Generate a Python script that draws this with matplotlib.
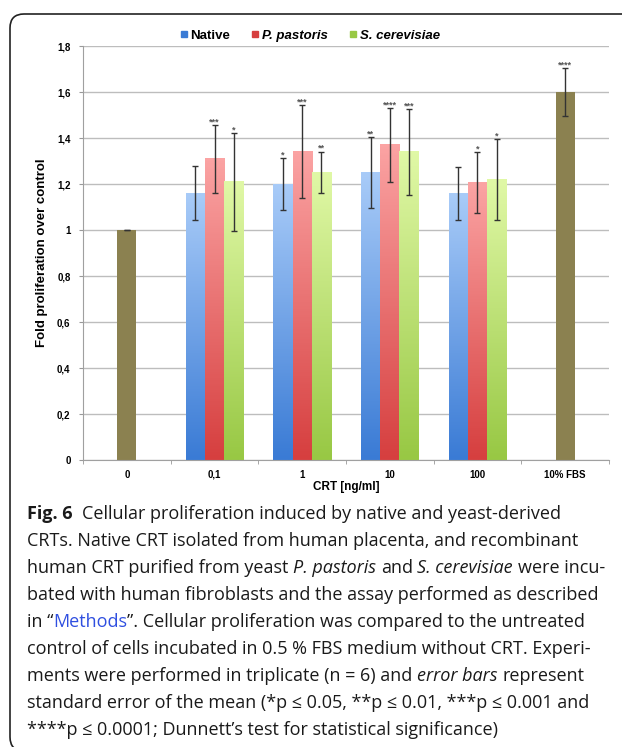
import numpy as np
import matplotlib
matplotlib.use("Agg")
import matplotlib.pyplot as plt
from matplotlib.colors import LinearSegmentedColormap
from matplotlib.lines import Line2D
from matplotlib.patches import FancyBboxPatch
from matplotlib.transforms import IdentityTransform

# ── data ──
categories = ["0", "0,1", "1", "10", "100", "10% FBS"]
native = [1.16, 1.20, 1.25, 1.16]
native_err = [0.118, 0.113, 0.154, 0.116]
pastoris = [1.31, 1.34, 1.37, 1.205]
pastoris_err = [0.148, 0.202, 0.161, 0.133]
cerevisiae = [1.21, 1.25, 1.34, 1.22]
cerevisiae_err = [0.213, 0.091, 0.187, 0.177]
native_stars = ["", "*", "**", ""]
pastoris_stars = ["***", "***", "****", "*"]
cerevisiae_stars = ["*", "**", "***", "*"]
control_values = [1.0, 1.6]          # "0" and "10% FBS"
control_err = [0.0, 0.105]
control_stars = ["", "****"]
yticks = [0, 0.2, 0.4, 0.6, 0.8, 1.0, 1.2, 1.4, 1.6, 1.8]

caption = [
    [("Fig. 6", "b"), ("  Cellular proliferation induced by native and yeast-derived", "r")],
    [("CRTs. Native CRT isolated from human placenta, and recombinant", "r")],
    [("human CRT purified from yeast ", "r"), ("P. pastoris", "i"), (" and ", "r"),
     ("S. cerevisiae", "i"), (" were incu-", "r")],
    [("bated with human fibroblasts and the assay performed as described", "r")],
    [("in \u201c", "r"), ("Methods", "m"), ("\u201d. Cellular proliferation was compared to the untreated", "r")],
    [("control of cells incubated in 0.5 % FBS medium without CRT. Experi-", "r")],
    [("ments were performed in triplicate (n = 6) and ", "r"), ("error bars", "i"), (" represent", "r")],
    [("standard error of the mean (*p \u2264 0.05, **p \u2264 0.01, ***p \u2264 0.001 and", "r")],
    [("****p \u2264 0.0001; Dunnett\u2019s test for statistical significance)", "r")],
]

plt.rcParams["font.family"] = ["Liberation Sans", "DejaVu Sans"]

W, H = 622, 747
fig = plt.figure(figsize=(W / 100, H / 100), dpi=100)
ax = fig.add_axes([83 / W, 1 - 460 / H, (609 - 83) / W, (460 - 46) / H])

blue = ("#3a7bd5", "#a8cbf8")
red = ("#d63f3f", "#fba3a3")
green = ("#98c844", "#e0f8a6")
olive = "#8b8150"
err_color = "#333333"
star_color = "#555555"
bw = 0.22


def gradient_bar(x, h, colors):
    cmap = LinearSegmentedColormap.from_list("g", list(colors))
    grad = np.linspace(0, 1, 100).reshape(-1, 1)
    ax.imshow(grad, extent=[x - bw / 2, x + bw / 2, 0, h], origin="lower",
              aspect="auto", cmap=cmap, zorder=2, interpolation="bilinear")


def mark(x, top, err, stars):
    ax.errorbar(x, top, yerr=err, fmt="none", ecolor=err_color, elinewidth=1.0,
                capsize=2.5, capthick=1.0, zorder=4)
    if stars:
        ax.annotate(stars, (x, top + err), xytext=(0, -1), textcoords="offset points",
                    ha="center", va="bottom", fontsize=6.5, fontweight="bold",
                    color=star_color, zorder=5)


# control bars
for x, v, e, s in zip([0, 5], control_values, control_err, control_stars):
    ax.bar(x, v, width=bw, color=olive, zorder=2)
    mark(x, v, e, s)

# CRT groups
groups = [(native, native_err, native_stars, blue, -bw),
          (pastoris, pastoris_err, pastoris_stars, red, 0.0),
          (cerevisiae, cerevisiae_err, cerevisiae_stars, green, bw)]
for vals, errs, stars, cols, off in groups:
    for i, (v, e, s) in enumerate(zip(vals, errs, stars)):
        x = i + 1 + off
        gradient_bar(x, v, cols)
        mark(x, v, e, s)

ax.set_xlim(-0.5, 5.5)
ax.set_ylim(0, 1.8)
ax.set_yticks(yticks)
ax.set_yticklabels([f"{t:g}".replace(".", ",") for t in yticks])
ax.set_xticks(range(len(categories)))
ax.set_xticklabels(categories)
ax.set_xticks(np.arange(-0.5, 6, 1), minor=True)
ax.tick_params(axis="x", which="major", length=0, pad=7)
ax.tick_params(axis="x", which="minor", length=3, color="#999999")
ax.tick_params(axis="y", length=3, color="#999999", pad=6)
for lab in ax.get_xticklabels() + ax.get_yticklabels():
    lab.set_fontsize(7)
    lab.set_fontweight("bold")
ax.grid(axis="y", color="#bdbdbd", linewidth=1.0, zorder=0)
ax.set_axisbelow(True)
for sp in ["top", "right"]:
    ax.spines[sp].set_visible(False)
for sp in ["left", "bottom"]:
    ax.spines[sp].set_color("#a0a0a0")

handles = [Line2D([], [], marker="s", linestyle="none", markersize=4.5, color=c[0])
           for c in (blue, red, green)]
leg = ax.legend(handles, ["Native", "P. pastoris", "S. cerevisiae"], loc="center",
                bbox_to_anchor=(0.43, 1 + 10 / 414), ncol=3, frameon=False,
                handletextpad=0.1, columnspacing=1.5, handlelength=0.8,
                prop={"size": 9.5, "weight": "bold"})
for t in leg.get_texts()[1:]:
    t.set_style("italic")

fig.text(42 / W, 1 - 253 / H, "Fold proliferation over control", rotation=90,
         ha="center", va="center", fontsize=9.5, fontweight="bold")
fig.text(346 / W, 1 - 487 / H, "CRT [ng/ml]", ha="center", va="center",
         fontsize=8.5, fontweight="bold")

# rounded frame around the figure panel
frame = FancyBboxPatch((10, -4), 700, H - 14 + 4, boxstyle="round,pad=0,rounding_size=14",
                       transform=IdentityTransform(), fill=False, lw=1.2, ec="#222222")
fig.add_artist(frame)

# caption, drawn segment by segment
cap_font = ["Open Sans", "DejaVu Sans"]
cap_size = 13.0
styles = {"r": {"color": "#1a1a1a"}, "b": {"fontweight": "bold", "color": "#1a1a1a"},
          "i": {"fontstyle": "italic", "color": "#1a1a1a"}, "m": {"color": "#2f4fe0"}}
renderer = fig.canvas.get_renderer()


def width_px(t):
    return t.get_window_extent(renderer).width


probe = fig.text(0, 0, "a a", fontsize=cap_size, family=cap_font)
probe2 = fig.text(0, 0, "aa", fontsize=cap_size, family=cap_font)
space = width_px(probe) - width_px(probe2)
probe.remove()
probe2.remove()

for row, line in enumerate(caption):
    x = 27.0
    y = 519 + 27 * row
    for text, st in line:
        body = text.strip(" ")
        lead = len(text) - len(text.lstrip(" "))
        trail = len(text) - len(text.rstrip(" "))
        x += lead * space
        t = fig.text(x / W, 1 - y / H, body, fontsize=cap_size, family=cap_font,
                     ha="left", va="baseline", **styles[st])
        x += width_px(t) + trail * space

fig.savefig("out.png", dpi=100)
